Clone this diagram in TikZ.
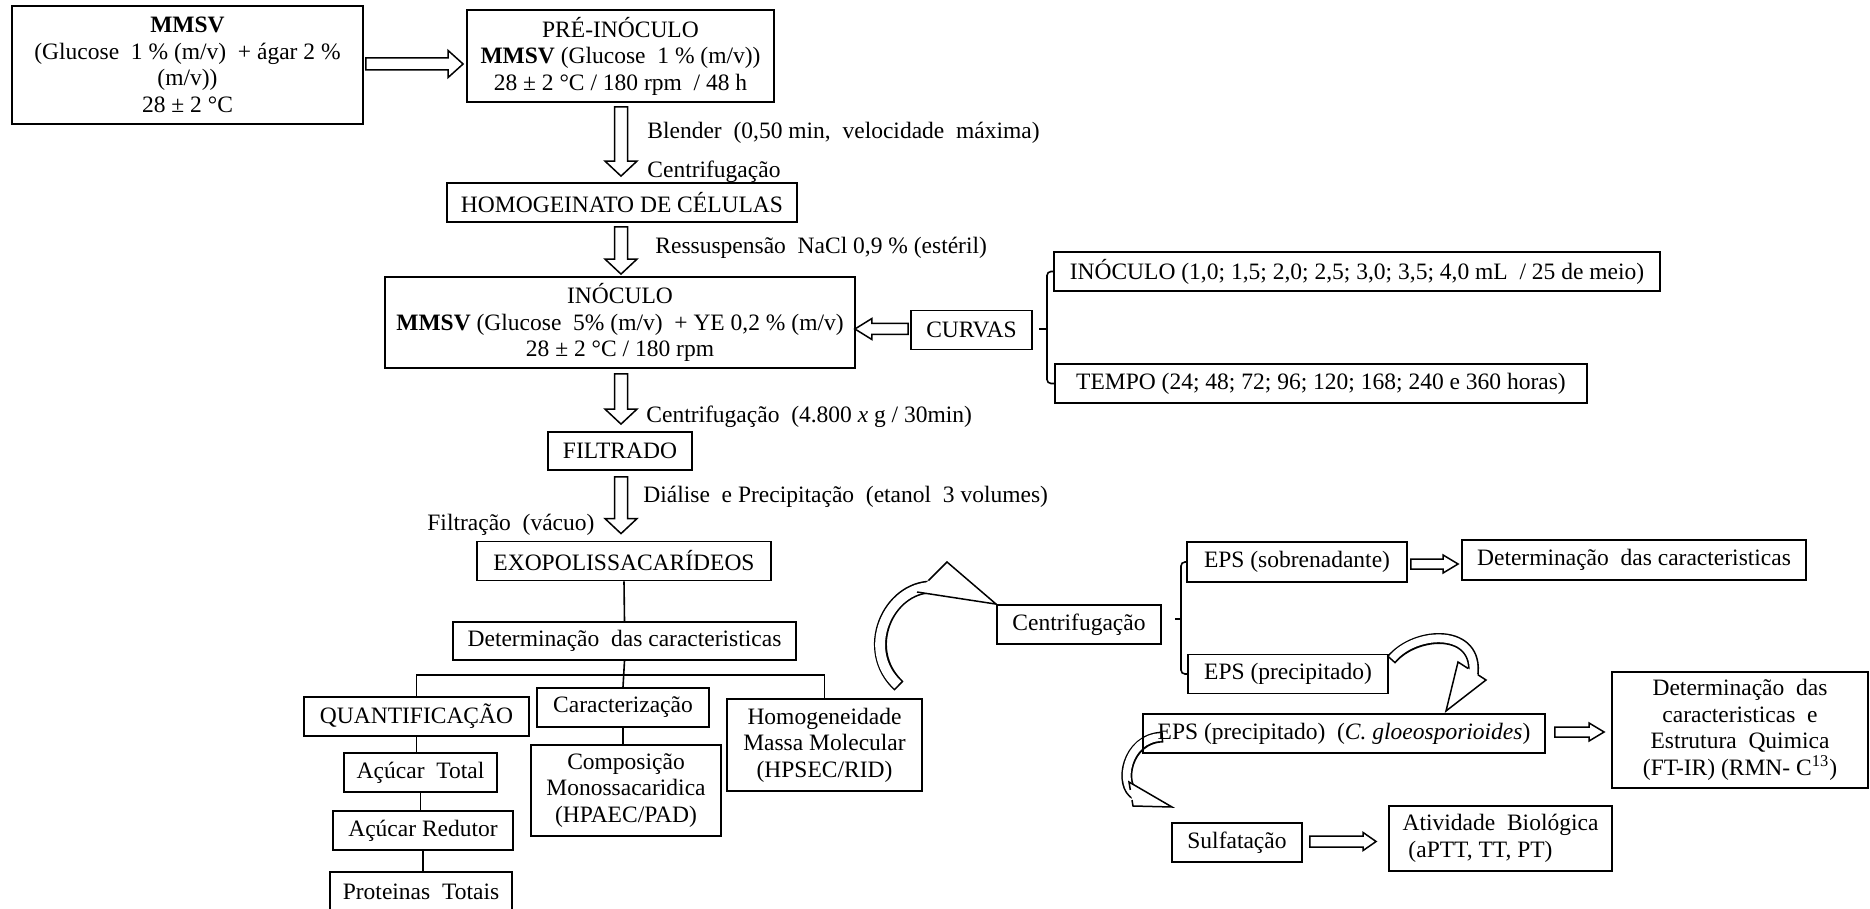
\documentclass[tikz,border=0pt]{standalone}
\usepackage{fontspec}
\setmainfont{Liberation Serif}
\usetikzlibrary{calc,backgrounds}

\newcommand{\downblock}[2]{%
  \draw[blockline] let \p1=(#1),\p2=(#2) in
    (\x1-3.25pt,\y1) -- (\x1+3.25pt,\y1) -- (\x1+3.25pt,\y2+7.5pt) -- (\x1+8pt,\y2+7.5pt)
    -- (\x1,\y2) -- (\x1-8pt,\y2+7.5pt) -- (\x1-3.25pt,\y2+7.5pt) -- cycle;}
\newcommand{\rightblock}[5]{%
  \draw[blockline] let \p1=(#1),\p2=(#2) in
    (\x1,\y1-#3) -- (\x2-#5,\y1-#3) -- (\x2-#5,\y1-#4) -- (\x2,\y1)
    -- (\x2-#5,\y1+#4) -- (\x2-#5,\y1+#3) -- (\x1,\y1+#3) -- cycle;}
\newcommand{\leftblock}[5]{%
  \draw[blockline] let \p1=(#1),\p2=(#2) in
    (\x1,\y1-#3) -- (\x2+#5,\y1-#3) -- (\x2+#5,\y1-#4) -- (\x2,\y1)
    -- (\x2+#5,\y1+#4) -- (\x2+#5,\y1+#3) -- (\x1,\y1+#3) -- cycle;}
% #1 tail, #2 #3 controls, #4 band end, #5 head corner 1, #6 tip, #7 head corner 2,
% #8 part of base drawn from corner 1, #9 part of base drawn from corner 2
\newcommand{\bandarrow}[9]{%
  \draw[bandout] (#1) .. controls (#2) and (#3) .. (#4);
  \draw[bandin] (#1) .. controls (#2) and (#3) .. (#4);
  \fill[white] (#5) -- (#6) -- (#7) -- cycle;
  \draw[blockline] ($(#5)!#8!(#7)$) -- (#5) -- (#6) -- (#7) -- ($(#7)!#9!(#5)$);}

\begin{document}
\begin{tikzpicture}[x=0.5pt, y=-0.5pt,
  every node/.style={font=\fontsize{11.75}{13.25}\selectfont},
  box/.style={draw, line width=0.9pt, inner sep=0pt, align=center},
  wh/.style 2 args={minimum width=#1*0.5pt, minimum height=#2*0.5pt},
  lab/.style={anchor=west, inner sep=0pt},
  conn/.style={line width=0.8pt},
  blockline/.style={line width=0.75pt, line join=miter},
  bandout/.style={line width=5.5pt},
  bandin/.style={white, line width=3.9pt, shorten <=0.8pt}]
\useasboundingbox (0,0) rectangle (1870,909);
\coordinate (spine) at (621,0);

% main column
\node[box, wh={351}{118}] (mmsv) at (187.5,65) {\textbf{MMSV}\\(Glucose\ \ 1 \% (m/v)\ \ + ágar 2 \%\\(m/v))\\28 ± 2 °C};
\node[box, wh={307}{92}] (pre) at (620.5,56) {PRÉ-INÓCULO\\\textbf{MMSV} (Glucose\ \ 1 \% (m/v))\\28 ± 2 °C / 180 rpm\ \ / 48 h};
\node[box, wh={350}{39}] (homog) at (622,202.5) {HOMOGEINATO DE CÉLULAS};
\node[box, wh={470}{91}] (inoc) at (620,322.5) {INÓCULO\\\textbf{MMSV} (Glucose\ \ 5\% (m/v)\ \ + YE 0,2 \% (m/v)\\28 ± 2 °C / 180 rpm};
\node[box, wh={121}{39}] (curvas) at (971.5,330) {CURVAS};
\node[box, wh={606}{39}] (inoc1) at (1357,271.5) {INÓCULO (1,0; 1,5; 2,0; 2,5; 3,0; 3,5; 4,0 mL\ \ / 25 de meio)};
\node[box, wh={532}{39}] (tempo) at (1321,383.5) {TEMPO (24; 48; 72; 96; 120; 168; 240 e 360 horas)};
\node[box, wh={144}{38}] (filtr) at (620,451) {FILTRADO};
\node[box, wh={294}{39}] (exo) at (624,561) {EXOPOLISSACARÍDEOS};

% labels
\node[lab] (blab) at (647,133) {Blender\ \ (0,50 min,\ \ velocidade\ \ máxima)};
\node[lab] (cen1) at (647,172) {Centrifugação};
\node[lab] (res) at (655,248) {Ressuspensão\ \ NaCl 0,9 \% (estéril)};
\node[lab] (cen2) at (646,417) {Centrifugação\ \ (4.800 \textit{x} g / 30min)};
\node[lab] (dial) at (643,497) {Diálise\ \ e Precipitação\ \ (etanol\ \ 3 volumes)};
\node[lab] (filt) at (427,525) {Filtração\ \ (vácuo)};

% tree
\node[box, wh={343}{38}] (detl) at (624.5,641) {Determinação\ \ das caracteristicas};
\node[box, wh={225}{39}] (quant) at (416.5,716.5) {QUANTIFICAÇÃO};
\node[box, wh={172}{39}] (caract) at (623,707.5) {Caracterização};
\node[box, wh={195}{92}] (homogen) at (824.5,745) {Homogeneidade\\Massa Molecular\\(HPSEC/RID)};
\node[box, wh={153}{39}] (at) at (420.5,772.5) {Açúcar\ \ Total};
\node[box, wh={180}{39}] (ar) at (423,830.5) {Açúcar Redutor};
\node[box, wh={182}{40}] (pt) at (421,892) {Proteinas\ \ Totais};
\node[box, wh={190}{91}] (comp) at (626,790.5) {Composição\\Monossacaridica\\(HPAEC/PAD)};

% right part
\node[box, wh={164}{39}] (centrif) at (1079,624.5) {Centrifugação};
\node[box, wh={220}{40}] (esob) at (1297,562) {EPS (sobrenadante)};
\node[box, wh={344}{40}] (detr) at (1634,560) {Determinação\ \ das caracteristicas};
\node[box, wh={200}{39}] (eprec) at (1288,674) {EPS (precipitado)};
\node[box, wh={402}{39}] (gloeo) at (1344,733.5) {EPS (precipitado)\ \ (\textit{C. gloeosporioides})};
\node[box, wh={256}{116}] (dete) at (1740,730) {Determinação\ \ das\\caracteristicas\ \ e\\Estrutura\ \ Quimica\\(FT-IR) (RMN- C\textsuperscript{13})};
\node[box, wh={130}{39}] (sulf) at (1237,842.5) {Sulfatação};
\node[box, wh={223}{65}, align=left] (ativ) at (1500.5,838.5) {Atividade\ \ Biológica\\\ (aPTT, TT, PT)};

% straight block arrows
\rightblock{$(mmsv.east)+(2,-1)$}{$(pre.west |- mmsv.east)+(-3,-1)$}{3pt}{6.75pt}{7.5pt}
\downblock{$(pre.south -| spine)+(0,4)$}{$(homog.north -| spine)+(0,-6)$}
\downblock{$(homog.south -| spine)+(0,4)$}{$(inoc.north -| spine)+(0,-2)$}
\downblock{$(inoc.south -| spine)+(0,5)$}{$(filtr.north -| spine)+(0,-7)$}
\downblock{$(filtr.south -| spine)+(0,6)$}{$(exo.north -| spine)+(0,-7)$}
\leftblock{$(curvas.west)+(-2,-1)$}{$(inoc.east |- curvas.west)+(-1,-1)$}{2.75pt}{5.25pt}{8.5pt}
\rightblock{$(esob.east)+(3,2)$}{$(detr.west |- esob.east)+(-3,2)$}{2.5pt}{4.5pt}{7.5pt}
\rightblock{$(gloeo.east)+(9,-1.5)$}{$(dete.west |- gloeo.east)+(-7,-1.5)$}{2.5pt}{4.5pt}{7.5pt}
\rightblock{$(sulf.east)+(7,-1)$}{$(ativ.west |- sulf.east)+(-12,-1)$}{2.75pt}{4.5pt}{6.5pt}

% tree connectors
\coordinate (hb) at ($(detl.south)+(0,14)$);
\draw[conn] (exo.south) -- (detl.north);
\draw[conn] (detl.south) -- (caract.north);
\draw[conn] (quant.north) |- (hb) -| (homogen.north);
\draw[conn] (quant.south) -- (quant.south |- at.north);
\draw[conn] (at.south) -- (at.south |- ar.north);
\draw[conn] (ar.south) -- (ar.south |- pt.north);
\draw[conn] (caract.south) -- (caract.south |- comp.north);

% brackets
\coordinate (br1) at (1047,329);
\draw[conn, rounded corners=2pt] (inoc1.west) -| (br1) |- (tempo.west);
\draw[conn] (br1) -- ++(-8,0);
\coordinate (br2) at (1181,619);
\draw[conn, rounded corners=2pt] (esob.west) -| (br2) |- (eprec.west);
\draw[conn] (br2) -- ++(-6,0);

% curved block arrows
\coordinate (c1a) at (899,686);
\coordinate (c1b) at (860,650);
\coordinate (c1c) at (888,587);
\coordinate (c1e) at (932,587);
\coordinate (c1h) at (947,562);
\coordinate (c1k) at (917,592);
\coordinate (c2a) at (1391,660);
\coordinate (c2b) at (1416,630);
\coordinate (c2c) at (1480,628);
\coordinate (c2e) at (1473,676);
\coordinate (c2h) at (1486,680);
\coordinate (c2t) at (1446,711);
\coordinate (c2k) at (1458,662);
\coordinate (c3a) at (1163,737);
\coordinate (c3b) at (1126,738);
\coordinate (c3c) at (1118,786);
\coordinate (c3e) at (1136,795);
\coordinate (c3h) at (1129,782);
\coordinate (c3t) at (1172,807);
\coordinate (c3k) at (1133,806);
\begin{pgfonlayer}{background}
\begin{scope}[bandout/.style={line width=6.5pt}, bandin/.style={white, line width=4.9pt, shorten <=0.8pt}]
\bandarrow{c1a}{c1b}{c1c}{c1e}{c1h}{centrif.north west}{c1k}{0.62}{0}
\end{scope}
\bandarrow{c2a}{c2b}{c2c}{c2e}{c2h}{c2t}{c2k}{0.29}{0.36}
\bandarrow{c3a}{c3b}{c3c}{c3e}{c3h}{c3t}{c3k}{0.33}{0.25}
\end{pgfonlayer}
\end{tikzpicture}
\end{document}
